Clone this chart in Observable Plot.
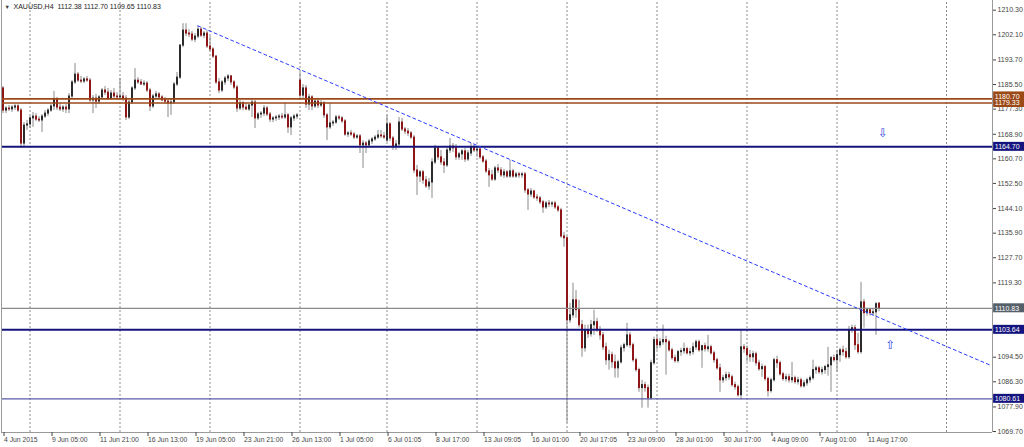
<!DOCTYPE html>
<html><head><meta charset="utf-8">
<script src="https://cdn.jsdelivr.net/npm/d3@7"></script>
<script src="https://cdn.jsdelivr.net/npm/@observablehq/plot@0.6"></script>
<style>
html,body{margin:0;padding:0;background:#fff;overflow:hidden;}
#chart svg{display:block;}
</style></head><body><div id="chart"></div>
<script>
const symbol = "XAUUSD,H4";
// H4 candles [open, high, low, close], one array per trading week
const w0604 = [[1184.2,1184.8,1175.8,1176.8],[1176.8,1178.2,1175.8,1177.5],[1177.5,1178.5,1176.5,1177.2],[1177.2,1178.5,1176.2,1177.8],[1177.8,1178.8,1176.8,1178.2],[1178.2,1178.8,1176.2,1176.8],[1176.8,1177.5,1164.2,1165.8],[1165.8,1172.8,1164.8,1171.8],[1171.8,1173.5,1170.2,1172.2]];
const w0608 = [[1172.2,1174.8,1170.8,1174.2],[1174.2,1176.2,1171.2,1174.8],[1174.8,1175.8,1173.2,1173.8],[1173.8,1174.8,1172.8,1173.5],[1173.5,1175.5,1169.5,1174.8],[1174.8,1176.8,1174.2,1175.8],[1175.8,1177.5,1174.8,1176.8],[1176.8,1178.8,1176.2,1178.2],[1178.2,1183.2,1176.8,1180.5],[1180.5,1181.2,1176.8,1177.8],[1177.8,1179.2,1176.5,1177.2],[1177.2,1178.5,1176.2,1177.8],[1177.8,1178.8,1175.8,1177.2],[1177.2,1182.5,1175.8,1181.5],[1181.5,1186.8,1180.8,1186.2],[1186.2,1192.5,1185.5,1188.8],[1188.8,1189.5,1186.2,1186.8],[1186.8,1188.2,1185.8,1186.5],[1186.5,1187.8,1185.8,1187.2],[1187.2,1188.2,1186.2,1186.8],[1186.8,1187.5,1179.5,1180.2],[1180.2,1181.8,1175.8,1180.8],[1180.8,1182.2,1177.5,1179.8],[1179.8,1181.8,1178.8,1181.2],[1181.2,1184.2,1180.5,1183.5],[1183.5,1184.8,1181.8,1182.8],[1182.8,1184.2,1180.2,1180.8],[1180.8,1183.5,1180.2,1182.5],[1182.5,1184.2,1180.8,1181.5],[1181.5,1182.8,1180.2,1181.2]];
const w0615 = [[1181.2,1187.5,1180.2,1181.5],[1181.5,1182.8,1179.8,1180.8],[1180.8,1181.8,1173.5,1174.5],[1174.5,1180.2,1173.8,1179.5],[1179.5,1184.8,1178.8,1184.2],[1184.2,1190.8,1183.5,1186.8],[1186.8,1187.8,1185.5,1186.2],[1186.2,1187.2,1185.2,1185.5],[1185.5,1186.8,1184.8,1185.8],[1185.8,1186.5,1182.8,1183.5],[1183.5,1184.2,1176.5,1178.2],[1178.2,1182.2,1177.5,1181.5],[1181.5,1183.2,1180.5,1182.2],[1182.2,1182.8,1180.5,1181.2],[1181.2,1181.8,1179.8,1180.2],[1180.2,1181.2,1178.8,1179.8],[1179.8,1180.8,1174.5,1179.2],[1179.2,1180.5,1175.2,1179.5],[1179.5,1186.2,1178.8,1185.5],[1185.5,1189.5,1184.8,1187.8],[1187.8,1198.8,1187.2,1198.5],[1198.5,1205.8,1197.8,1203.5],[1203.5,1205.8,1201.5,1202.5],[1202.5,1203.8,1201.2,1202.2],[1202.2,1203.2,1199.8,1200.5],[1200.5,1202.5,1199.5,1201.5],[1201.5,1204.8,1200.8,1203.8],[1203.8,1204.5,1201.2,1201.8],[1201.8,1203.2,1200.8,1202.5],[1202.5,1203.5,1197.5,1198.2]];
const w0622 = [[1198.2,1201.5,1196.5,1197.2],[1197.2,1197.8,1194.2,1194.8],[1194.8,1195.2,1185.5,1186.2],[1186.2,1187.5,1182.5,1183.5],[1183.5,1186.8,1182.8,1186.2],[1186.2,1188.2,1185.2,1187.5],[1187.5,1188.8,1186.5,1188.2],[1188.2,1188.5,1185.2,1186.2],[1186.2,1186.8,1183.8,1184.5],[1184.5,1185.2,1176.2,1177.5],[1177.5,1180.2,1176.8,1179.2],[1179.2,1179.8,1176.8,1177.8],[1177.8,1179.2,1176.8,1177.2],[1177.2,1178.8,1176.5,1178.5],[1178.5,1180.8,1174.5,1179.5],[1179.5,1180.2,1170.8,1174.2],[1174.2,1176.2,1173.5,1175.5],[1175.5,1176.5,1174.2,1175.8],[1175.8,1178.5,1174.8,1177.5],[1177.5,1178.2,1174.8,1175.5],[1175.5,1176.2,1172.8,1173.8],[1173.8,1174.8,1172.8,1174.2],[1174.2,1175.2,1173.2,1174.5],[1174.5,1175.5,1173.5,1174.8],[1174.8,1175.8,1173.8,1174.5],[1174.5,1179.2,1173.8,1175.2],[1175.2,1175.8,1169.2,1171.2],[1171.2,1174.8,1168.5,1174.2],[1174.2,1175.5,1173.2,1174.8],[1174.8,1175.8,1173.8,1175.2]];
const w0629 = [[1186.8,1189.5,1180.2,1181.8],[1181.8,1185.5,1180.8,1184.2],[1184.2,1185.2,1177.5,1178.8],[1178.8,1182.2,1176.8,1181.2],[1181.2,1181.8,1176.8,1178.2],[1178.2,1180.5,1177.5,1179.8],[1179.8,1180.5,1177.5,1178.5],[1178.5,1180.2,1177.8,1179.2],[1179.2,1179.8,1174.2,1175.2],[1175.2,1175.8,1166.8,1171.2],[1171.2,1179.2,1170.5,1172.5],[1172.5,1173.5,1171.5,1172.8],[1172.8,1175.2,1172.2,1174.5],[1174.5,1175.2,1173.5,1174.2],[1174.2,1174.8,1172.5,1173.2],[1173.2,1173.8,1168.2,1168.8],[1168.8,1169.8,1167.8,1169.2],[1169.2,1170.2,1168.2,1168.8],[1168.8,1169.5,1167.2,1167.8],[1167.8,1168.8,1167.2,1168.2],[1168.2,1168.8,1162.5,1165.2],[1165.2,1166.8,1157.5,1165.8],[1165.8,1166.5,1162.5,1165.2],[1165.2,1167.2,1164.5,1166.5],[1166.5,1167.8,1165.5,1167.2],[1167.2,1168.5,1166.5,1167.8],[1167.8,1170.2,1167.2,1168.5],[1168.5,1170.2,1167.5,1168.2],[1168.2,1169.5,1167.2,1167.8]];
const w0706 = [[1166.8,1175.2,1166.2,1172.2],[1172.2,1172.8,1166.5,1167.5],[1167.5,1168.2,1163.5,1164.8],[1164.8,1166.8,1163.5,1165.5],[1165.5,1174.5,1164.8,1172.8],[1172.8,1174.2,1169.8,1170.5],[1170.5,1171.2,1168.8,1169.8],[1169.8,1170.8,1168.2,1169.2],[1169.2,1169.8,1167.2,1167.8],[1167.8,1168.5,1155.8,1156.8],[1156.8,1158.5,1148.5,1154.8],[1154.8,1156.8,1152.8,1156.2],[1156.2,1156.8,1152.2,1153.5],[1153.5,1154.8,1150.8,1151.5],[1151.5,1154.2,1150.2,1152.8],[1152.8,1160.8,1147.5,1159.5],[1159.5,1165.2,1158.8,1164.2],[1164.2,1164.8,1160.2,1161.2],[1161.2,1163.5,1158.5,1159.5],[1159.5,1160.8,1155.8,1158.5],[1158.5,1164.2,1157.8,1163.5],[1163.5,1167.5,1162.5,1164.8],[1164.8,1165.8,1162.8,1164.2],[1164.2,1165.5,1160.2,1161.2],[1161.2,1162.8,1160.2,1162.2],[1162.2,1163.8,1160.2,1163.2],[1163.2,1164.2,1159.5,1160.5],[1160.5,1163.5,1159.8,1162.5],[1162.5,1165.8,1161.5,1164.5],[1164.5,1165.2,1162.8,1163.5]];
const w0713 = [[1163.5,1164.5,1161.2,1163.8],[1163.8,1164.5,1160.5,1161.2],[1161.2,1161.8,1159.2,1159.8],[1159.8,1160.5,1155.8,1156.5],[1156.5,1157.5,1151.2,1155.2],[1155.2,1156.8,1153.2,1153.8],[1153.8,1158.2,1153.2,1157.5],[1157.5,1158.8,1155.8,1156.8],[1156.8,1157.8,1154.5,1155.2],[1155.2,1157.2,1154.2,1156.2],[1156.2,1156.8,1154.2,1154.8],[1154.8,1160.2,1154.2,1156.5],[1156.5,1157.2,1154.2,1154.8],[1154.8,1156.2,1154.2,1155.5],[1155.5,1156.2,1154.2,1155.2],[1155.2,1156.2,1154.2,1155.5],[1155.5,1156.2,1149.2,1150.2],[1150.2,1150.8,1143.5,1148.8],[1148.8,1150.8,1147.8,1149.8],[1149.8,1150.2,1147.2,1147.8],[1147.8,1148.8,1146.5,1147.5],[1147.5,1148.2,1145.5,1146.2],[1146.2,1146.8,1142.5,1144.5],[1144.5,1146.5,1143.8,1145.8],[1145.8,1146.8,1144.5,1145.5],[1145.5,1146.5,1144.5,1145.8],[1145.8,1146.5,1143.8,1144.5],[1144.5,1145.2,1142.8,1143.5],[1143.5,1144.2,1134.2,1134.8],[1134.8,1136.2,1131.2,1134.2]];
const w0720 = [[1134.2,1134.8,1072.5,1106.8],[1106.8,1112.5,1105.8,1108.5],[1108.5,1119.2,1107.5,1113.5],[1113.5,1116.8,1107.5,1110.2],[1110.2,1113.5,1104.2,1105.2],[1105.2,1106.8,1094.5,1097.5],[1097.5,1105.2,1096.2,1103.5],[1103.5,1105.2,1100.8,1102.2],[1102.2,1106.8,1101.2,1105.2],[1105.2,1110.2,1101.8,1106.2],[1106.2,1107.5,1102.8,1103.5],[1103.5,1104.8,1100.2,1101.8],[1101.8,1102.8,1096.8,1097.8],[1097.8,1099.2,1091.8,1093.5],[1093.5,1096.8,1090.2,1095.2],[1095.2,1096.2,1090.8,1092.8],[1092.8,1095.2,1087.5,1090.8],[1090.8,1093.5,1087.5,1092.8],[1092.8,1098.5,1092.2,1097.5],[1097.5,1099.2,1096.2,1098.5],[1098.5,1105.8,1097.8,1101.8],[1101.8,1102.8,1097.5,1098.5],[1098.5,1099.2,1092.8,1093.5],[1093.5,1094.2,1089.5,1090.2],[1090.2,1090.8,1082.8,1084.2],[1084.2,1086.8,1077.5,1085.2],[1085.2,1086.2,1082.8,1084.2],[1084.2,1085.2,1077.5,1080.8],[1080.8,1093.5,1080.2,1092.5],[1092.5,1101.2,1091.8,1100.2]];
const w0727 = [[1100.2,1101.8,1096.8,1098.5],[1098.5,1100.8,1097.5,1099.5],[1099.5,1105.2,1098.5,1100.2],[1100.2,1101.5,1088.5,1099.5],[1099.5,1100.2,1096.2,1096.8],[1096.8,1097.5,1093.5,1094.2],[1094.2,1095.2,1092.5,1093.2],[1093.2,1096.8,1092.5,1096.2],[1096.2,1097.5,1094.8,1096.5],[1096.5,1099.2,1095.5,1097.2],[1097.2,1097.8,1095.2,1095.8],[1095.8,1097.5,1094.8,1096.2],[1096.2,1099.2,1095.2,1097.8],[1097.8,1100.2,1096.8,1099.5],[1099.5,1100.2,1096.2,1096.8],[1096.8,1098.5,1090.8,1098.2],[1098.2,1099.2,1096.2,1097.2],[1097.2,1101.8,1096.2,1097.8],[1097.8,1098.5,1095.2,1095.8],[1095.8,1096.5,1092.5,1093.5],[1093.5,1094.2,1090.2,1090.8],[1090.8,1092.2,1082.8,1086.8],[1086.8,1088.5,1085.8,1087.5],[1087.5,1089.5,1086.5,1088.5],[1088.5,1089.5,1086.8,1087.8],[1087.8,1088.5,1084.5,1085.2],[1085.2,1086.2,1083.5,1084.5],[1084.5,1085.2,1081.2,1081.8],[1081.8,1103.5,1080.2,1097.8],[1097.8,1098.8,1095.8,1097.2]];
const w0803 = [[1097.2,1098.2,1092.8,1095.2],[1095.2,1096.8,1092.8,1094.5],[1094.5,1096.5,1092.8,1095.5],[1095.5,1096.2,1091.5,1092.5],[1092.5,1093.5,1089.8,1090.5],[1090.5,1092.2,1087.8,1091.2],[1091.2,1091.8,1086.5,1087.2],[1087.2,1087.8,1081.2,1083.2],[1083.2,1087.5,1082.5,1086.8],[1086.8,1094.2,1086.2,1093.5],[1093.5,1094.8,1090.8,1092.5],[1092.5,1093.2,1088.2,1088.8],[1088.8,1089.5,1086.5,1087.2],[1087.2,1088.8,1086.2,1087.8],[1087.8,1088.8,1085.8,1086.8],[1086.8,1092.8,1085.8,1087.5],[1087.5,1088.2,1085.5,1086.2],[1086.2,1087.8,1085.2,1086.8],[1086.8,1087.5,1084.2,1084.8],[1084.8,1086.8,1084.2,1085.8],[1085.8,1087.5,1084.8,1086.8],[1086.8,1088.2,1085.8,1087.5],[1087.5,1093.5,1086.8,1090.2],[1090.2,1091.5,1088.8,1090.8],[1090.8,1091.5,1088.8,1089.5],[1089.5,1091.2,1088.5,1090.2],[1090.2,1091.8,1088.8,1091.2],[1091.2,1097.8,1088.2,1091.8],[1091.8,1094.8,1082.8,1094.2],[1094.2,1095.2,1092.8,1093.5]];
const w0810 = [[1093.5,1096.8,1089.5,1095.2],[1095.2,1097.5,1092.8,1096.8],[1096.8,1098.2,1094.8,1096.2],[1096.2,1097.5,1093.8,1094.5],[1094.5,1104.8,1093.8,1103.5],[1103.5,1105.2,1102.5,1104.2],[1104.2,1105.2,1096.8,1098.5],[1098.5,1102.5,1095.5,1096.2],[1096.2,1119.5,1095.5,1112.8],[1112.8,1113.8,1104.2,1109.2],[1109.2,1110.8,1108.2,1110.2],[1110.2,1110.8,1108.2,1109.2],[1109.2,1110.5,1108.2,1109.5],[1109.5,1112.8,1101.8,1112.2],[1112.38,1112.70,1109.65,1110.83]];

const yTicks = [1210.30,1202.10,1193.70,1185.50,1177.30,1168.90,1160.70,1152.50,1144.10,1135.90,1127.70,1119.30,1094.50,1086.30,1077.90,1069.70];
const xTickBars = [0,16,32,48,64,80,96,112,128,144,160,176,192,208,224,240,256,272,288];
const xTickLabels = ["4 Jun 2015","9 Jun 05:00","11 Jun 21:00","16 Jun 13:00","19 Jun 05:00","23 Jun 21:00","26 Jun 13:00","1 Jul 05:00","6 Jul 01:05","8 Jul 17:00","13 Jul 09:05","16 Jul 01:00","20 Jul 17:05","23 Jul 09:00","28 Jul 01:00","30 Jul 17:00","4 Aug 09:00","7 Aug 01:00","11 Aug 17:00"];
const weekStarts = [9,39,69,99,128,158,188,218,248,278,314.5];
const brownLevels = [1179.33,1180.70];
const navyLevels = [1164.70,1103.64];
const supportLevels = [1080.61];
const trendline = [{bar:64.9, price:1205.1},{bar:329.2, price:1091.8}];
const arrowsDown = [{bar:293.3, price:1169.3}];
const arrowsUp = [{bar:295.8, price:1098.5}];

const candles = [w0604,w0608,w0615,w0622,w0629,w0706,w0713,w0720,w0727,w0803,w0810].flat()
  .map(([o,h,l,c], i) => ({i,o,h,l,c}));
const last = candles[candles.length-1];
const fmt = d => d.toFixed(2);
const header = `${symbol}  ${fmt(last.o)} ${fmt(last.h)} ${fmt(last.l)} ${fmt(last.c)}`;
const labelByBar = new Map(xTickBars.map((b,k)=>[b,xTickLabels[k]]));

const xDomain = [-0.5, 329.83];
const yDomain = [1069.38, 1213.54];
const PX = (yDomain[1]-yDomain[0]) / 432; // price units per pixel

const BROWN = "#9b4a17", NAVY = "#14147e", GREY = "#56606a";
const boxes = [
  ...brownLevels.map(p => ({price:p, fill:BROWN})),
  ...navyLevels.map(p => ({price:p, fill:NAVY})),
  {price:last.c, fill:GREY},
  ...supportLevels.map(p => ({price:p, fill:NAVY}))
].sort((a,b)=>a.price-b.price);
// keep stacked price tags readable: push a tag up when it sits too close above the previous one
for (let k=0;k<boxes.length;k++){
  boxes[k].at = boxes[k].price;
  if (k>0 && (boxes[k].at - boxes[k-1].at)/PX < 6.6) boxes[k].at = boxes[k-1].at + 6.6*PX;
}

const chart = Plot.plot({
  width:1024, height:447,
  marginLeft:1, marginRight:32, marginTop:0, marginBottom:15,
  x:{type:"linear", domain:xDomain, axis:null},
  y:{type:"linear", domain:yDomain, axis:null},
  style:{fontFamily:"'Liberation Sans', Arial, sans-serif", background:"#fff", color:"#333"},
  marks:[
    Plot.ruleX(weekStarts, {y1:yDomain[0], y2:yDomain[1], stroke:"#8c8c8c", strokeDasharray:"2,2", strokeWidth:1}),
    Plot.ruleX(candles, {x:"i", y1:"l", y2:"h", stroke:"#8a8a8a", strokeWidth:1}),
    Plot.rect(candles, {x1:d=>d.i-1/6, x2:d=>d.i+0.5, y1:d=>Math.min(d.o,d.c), y2:d=>Math.max(d.o,d.c),
      insetTop:-0.5, insetBottom:-0.5,
      fill:d=>d.c>=d.o ? "#2b2b2b" : "#8e1616"}),
    Plot.ruleY(brownLevels, {stroke:BROWN, strokeWidth:1.6}),
    Plot.ruleY(navyLevels, {stroke:NAVY, strokeWidth:2}),
    Plot.ruleY([last.c], {stroke:"#8a8a8a", strokeWidth:1.2}),
    Plot.ruleY(supportLevels, {stroke:"#5a5aa8", strokeWidth:1.3}),
    Plot.line(trendline, {x:"bar", y:"price", stroke:"#2a3cff", strokeWidth:1, strokeDasharray:"3,3"}),
    Plot.text(arrowsDown, {x:"bar", y:"price", text:()=>"⇩", fill:"#3344e0", fontSize:12, fontFamily:"DejaVu Sans"}),
    Plot.text(arrowsUp, {x:"bar", y:"price", text:()=>"⇧", fill:"#3344e0", fontSize:12, fontFamily:"DejaVu Sans"}),
    // frame
    Plot.ruleX([xDomain[0], xDomain[1]], {stroke:"#9a9a9a"}),
    Plot.ruleY([yDomain[0]], {stroke:"#9a9a9a"}),
    Plot.axisY(yTicks, {anchor:"right", tickSize:3, tickPadding:2, tickFormat:fmt, fontSize:7, color:"#444"}),
    Plot.axisX(xTickBars, {anchor:"bottom", tickSize:4, tickPadding:1, tickFormat:d=>labelByBar.get(d), textAnchor:"start", dx:1, fontSize:6.8, color:"#444"}),
    Plot.rect(boxes, {x1:330.2, x2:341, y1:d=>d.at-1.5, y2:d=>d.at+1.5, fill:"fill"}),
    Plot.text(boxes, {x:330.6, y:"at", text:d=>fmt(d.price), textAnchor:"start", fill:"#fff", fontSize:7}),
    Plot.text(["▼"], {frameAnchor:"top-left", dx:3, dy:5, fontSize:5.5, fill:"#333", textAnchor:"start", lineAnchor:"top"}),
    Plot.text([header], {frameAnchor:"top-left", dx:12, dy:4, fontSize:7, fill:"#222", textAnchor:"start", lineAnchor:"top"})
  ]
});
document.getElementById("chart").appendChild(chart);
</script></body></html>
